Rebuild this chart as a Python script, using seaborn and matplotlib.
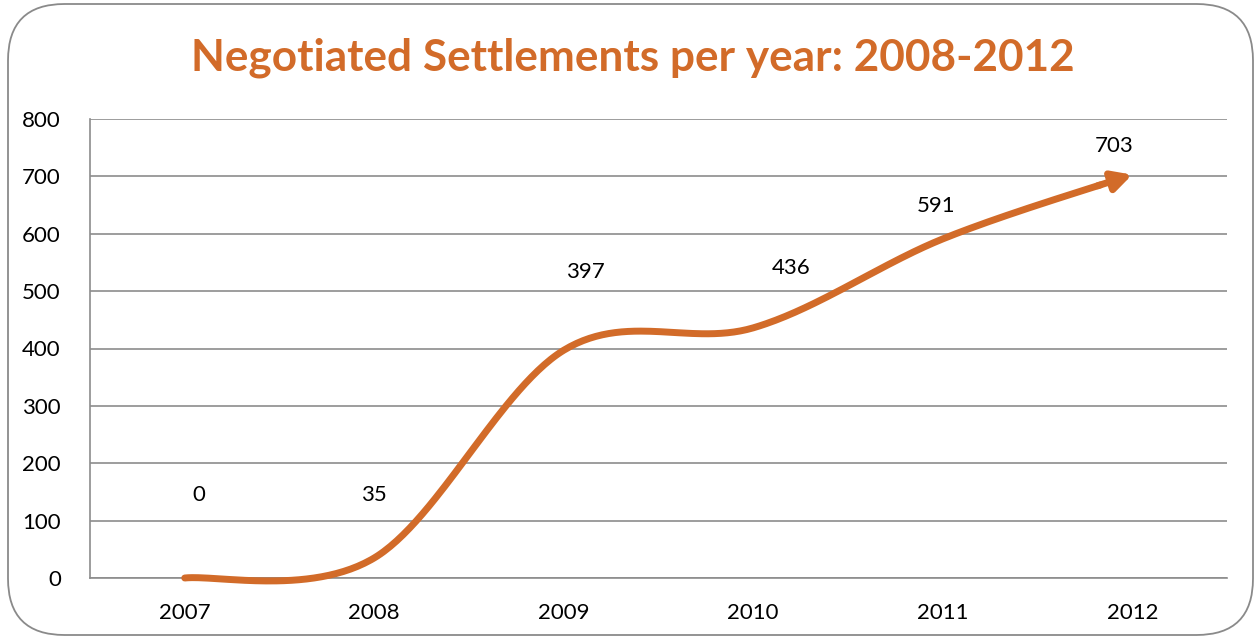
import numpy as np
import pandas as pd
import matplotlib
matplotlib.use("Agg")
import matplotlib.pyplot as plt
from matplotlib.patches import FancyBboxPatch
import seaborn as sns

years = ["2007", "2008", "2009", "2010", "2011", "2012"]
settlements = [0, 35, 397, 436, 591, 703]
y_ticks = [0, 100, 200, 300, 400, 500, 600, 700, 800]
# where each value label sits relative to its point, in pixels (dx, dy)
label_dx_px = [14, 0, 22, 38, -7, -18]
label_dy_px = [83, 63, 78, 60, 33, 29]
title = "Negotiated Settlements per year: 2008-2012"

ORANGE = "#D26B29"
GRID = "#8C8C8C"

sns.set_theme(style="white")
plt.rcParams["font.family"] = ["Lato", "DejaVu Sans"]

W, H = 1255, 641
fig = plt.figure(figsize=(W / 100, H / 100), dpi=100)

# rounded frame around the chart area
frame = FancyBboxPatch((8 / W, 6 / H), (W - 10) / W, (H - 10) / H,
                       boxstyle="round,pad=0,rounding_size=0.045",
                       transform=fig.transFigure, facecolor="white",
                       edgecolor="#8A8A8A", linewidth=1.3,
                       mutation_aspect=W / H, zorder=-5)
fig.patches.append(frame)

left, right, top, bottom = 90, 1227, 119, 578
ax = fig.add_axes([left / W, (H - bottom) / H, (right - left) / W, (bottom - top) / H])
ax.set_facecolor("none")
ax.set_zorder(2)

# smooth Bezier path through the points (Catmull-Rom style control points)
xs = np.arange(len(settlements), dtype=float)
ys = np.array(settlements, dtype=float)
pts = np.column_stack([xs, ys])
curve = []
n = len(pts)
for i in range(n - 1):
    p0 = pts[max(i - 1, 0)]
    p1 = pts[i]
    p2 = pts[i + 1]
    p3 = pts[min(i + 2, n - 1)]
    c1 = p1 + (p2 - p0) / 6.0
    c2 = p2 - (p3 - p1) / 6.0
    t = np.linspace(0, 1, 60)[:, None]
    seg = ((1 - t) ** 3) * p1 + 3 * ((1 - t) ** 2) * t * c1 + 3 * (1 - t) * t ** 2 * c2 + t ** 3 * p2
    curve.append(seg if i == 0 else seg[1:])
curve = np.vstack(curve)

# stop the line short of the end so the arrowhead sits on top
cut = len(curve) - 14
df = pd.DataFrame({"x": curve[:cut, 0], "y": curve[:cut, 1]})
sns.lineplot(data=df, x="x", y="y", ax=ax, color=ORANGE, linewidth=5.0,
             sort=False, solid_capstyle="round", zorder=3, clip_on=False)
ax.annotate("", xy=(curve[-1, 0], curve[-1, 1]), xytext=(curve[cut - 2, 0], curve[cut - 2, 1]),
            arrowprops=dict(arrowstyle="-|>,head_length=0.95,head_width=0.5",
                            color=ORANGE, lw=5.0, shrinkA=0, shrinkB=0),
            zorder=4)

for i, (v, dx, dy) in enumerate(zip(settlements, label_dx_px, label_dy_px)):
    ax.annotate(str(v), xy=(i, v), xytext=(dx * 0.72, dy * 0.72), textcoords="offset points",
                ha="center", va="center", fontsize=16, color="black")

ax.set_xlim(-0.5, len(years) - 0.5)
ax.set_ylim(0, 800)
ax.set_yticks(y_ticks)
ax.set_yticklabels([str(t) for t in y_ticks], fontsize=16, color="black")
ax.set_xticks(np.arange(len(years)))
ax.set_xticklabels(years, fontsize=16, color="black")
ax.set_xticks(np.arange(-0.5, len(years)), minor=True)
ax.tick_params(axis="x", which="major", length=0, pad=18)
ax.tick_params(axis="x", which="minor", length=7, width=1.2, color=GRID, direction="out")
ax.tick_params(axis="y", which="major", length=7, width=1.2, color=GRID, direction="out", pad=14)
ax.yaxis.grid(True, color=GRID, linewidth=1.2)
ax.xaxis.grid(False)
for s in ["top", "right"]:
    ax.spines[s].set_visible(False)
for s in ["left", "bottom"]:
    ax.spines[s].set_color(GRID)
    ax.spines[s].set_linewidth(1.2)
ax.set_xlabel("")
ax.set_ylabel("")

fig.text((193 + 1072) / 2 / W, 1 - 58 / H, title, ha="center", va="center",
         fontsize=31.8, fontweight="bold", color=ORANGE)

fig.savefig("out.png", dpi=100)
